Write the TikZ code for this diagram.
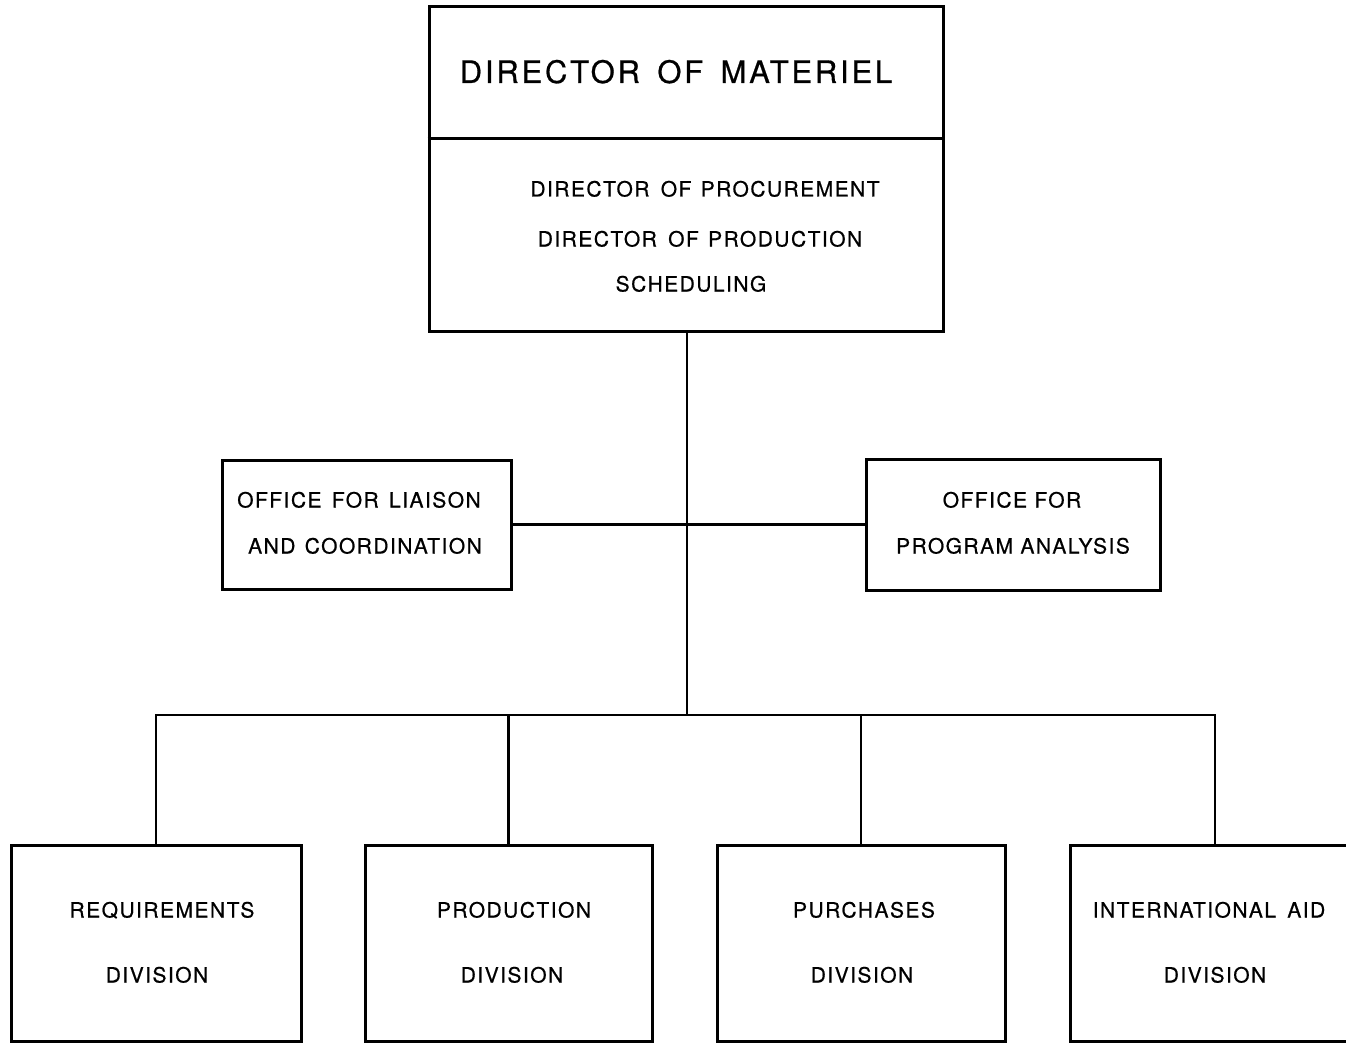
\documentclass[tikz,border=0pt]{standalone}
\usepackage{fontspec}
\newfontfamily\lettr[LetterSpace=7,FakeBold=0.6]{TeX Gyre Heros}
\newfontfamily\lettrt[LetterSpace=9,FakeBold=0.6]{TeX Gyre Heros}
\begin{document}
\begin{tikzpicture}[x=1pt,y=-1pt,
  box/.style={draw,line width=3pt,rectangle,inner sep=0pt},
  conn/.style={line width=2.2pt},
  lbl/.style={inner sep=0pt,anchor=base,font=\fontsize{21}{21}\lettr},
  ttl/.style={inner sep=0pt,anchor=base,font=\fontsize{31}{31}\lettrt}]
\useasboundingbox (0,0) rectangle (1346,1043);
% boxes
\node[box,minimum width=514pt,minimum height=324pt] (top) at (686,169) {};
\node[box,minimum width=289pt,minimum height=129pt] (lft) at (366.5,524.5) {};
\node[box,minimum width=294pt,minimum height=131pt] (rgt) at (1013,524.5) {};
\node[box,minimum width=290pt,minimum height=196pt] (b1) at (156,943) {};
\node[box,minimum width=287pt,minimum height=196pt] (b2) at (508.5,943) {};
\node[box,minimum width=288pt,minimum height=196pt] (b3) at (861,943) {};
\node[box,minimum width=290pt,minimum height=196pt] (b4) at (1215,943) {};
% divider in top box
\coordinate (div) at (686,139);
\draw[line width=3pt] (top.west |- div) -- (top.east |- div);
% texts
\node[ttl] (t0) at (676,83) {DIRECTOR\hspace{6pt} OF\hspace{6pt} MATERIEL};
\node[lbl] (t1) at (705,196.5) {DIRECTOR\hspace{4pt} OF\hspace{2pt} PROCUREMENT};
\node[lbl] (t2) at (700,246.5) {DIRECTOR\hspace{4pt} OF\hspace{2pt} PRODUCTION};
\node[lbl] (t3) at (691,291.5) {SCHEDULING};
\node[lbl] (l1) at (359,507.5) {OFFICE\hspace{3pt} FOR\hspace{3pt} LIAISON};
\node[lbl] (l2) at (365,553.5) {AND\hspace{2pt} COORDINATION};
\node[lbl] (r1) at (1012,507.5) {OFFICE FOR};
\node[lbl] (r2) at (1013,553.5) {PROGRAM ANALYSIS};
\node[lbl] (d1a) at (162,917.5) {REQUIREMENTS};
\node[lbl] (d1b) at (157,982.5) {DIVISION};
\node[lbl] (d2a) at (514,917.5) {PRODUCTION};
\node[lbl] (d2b) at (512,982.5) {DIVISION};
\node[lbl] (d3a) at (864,917.5) {PURCHASES};
\node[lbl] (d3b) at (862,982.5) {DIVISION};
\node[lbl] (d4a) at (1209,917.5) {INTERNATIONAL\hspace{4pt} AID};
\node[lbl] (d4b) at (1215,982.5) {DIVISION};
% connectors
\coordinate (bus) at (687,715);
\draw[conn] (top.south -| bus) -- (bus);
\draw[conn] (lft.east) -- (rgt.west);
\draw[conn] (b1.north) |- (b4.north |- bus) -- (b4.north);
\draw[conn] (b2.north) -- (b2.north |- bus);
\draw[conn] (b3.north) -- (b3.north |- bus);
\end{tikzpicture}
\end{document}
